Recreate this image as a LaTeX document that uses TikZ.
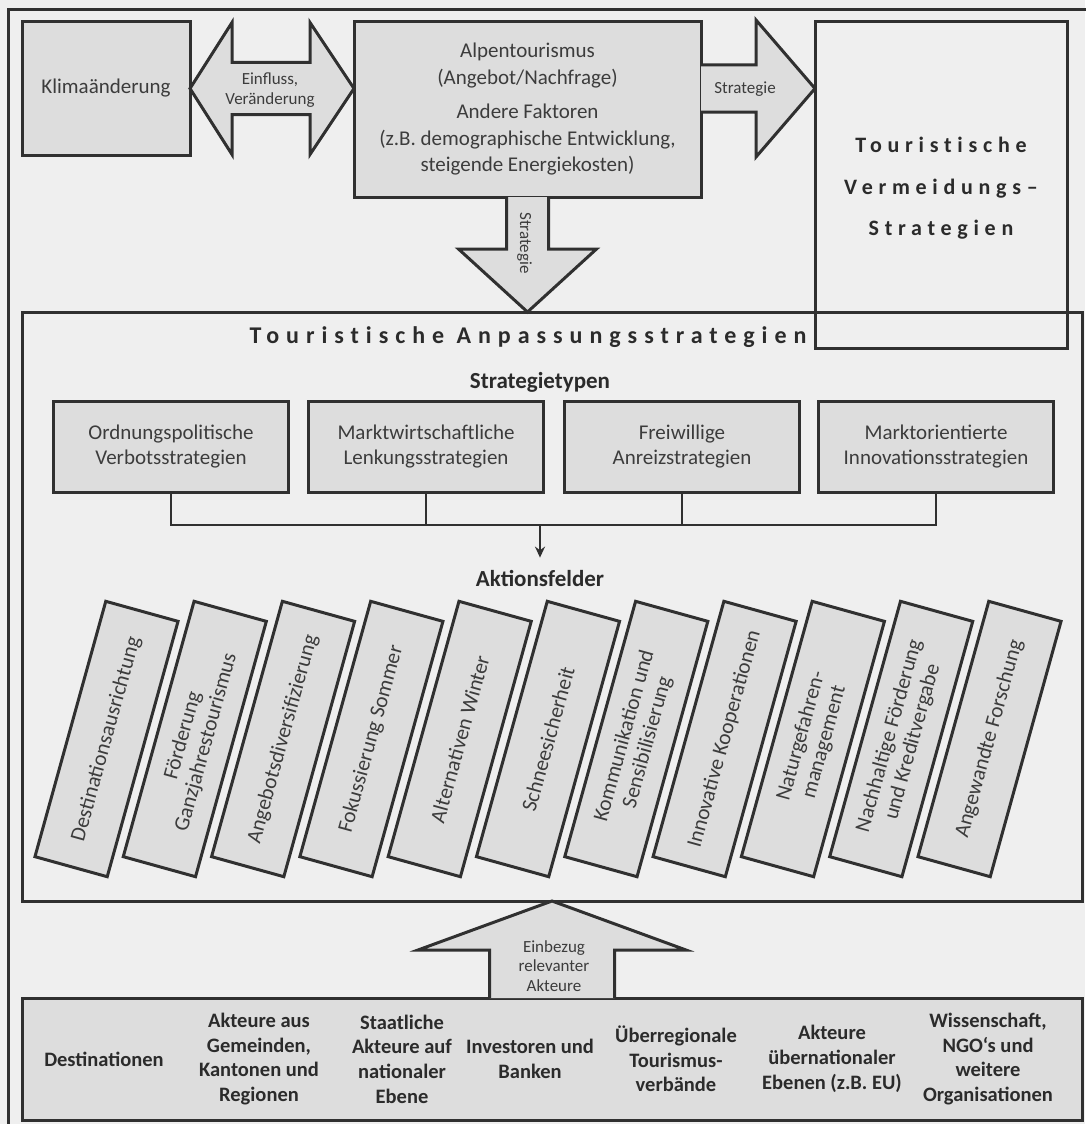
\documentclass[tikz,border=0pt]{standalone}
\usepackage{fontspec}
\setmainfont{Carlito}
\newfontfamily\spacedfont[LetterSpace=26,Ligatures=NoCommon]{Carlito}
\newfontfamily\widefont[LetterSpace=29,Ligatures=NoCommon]{Carlito}
\usetikzlibrary{calc,arrows.meta}

\definecolor{paper}{HTML}{EFEFEF}
\definecolor{boxfill}{HTML}{DDDDDD}
\definecolor{ink}{HTML}{303030}
\definecolor{txt}{HTML}{3C3C3C}
\definecolor{titletxt}{HTML}{2B2B2B}

\newcommand\fsz[2]{\fontsize{#1}{#2}\selectfont}

\begin{document}
\begin{tikzpicture}[x=1pt,y=-1pt,
  box/.style={draw=ink, line width=3pt, fill=boxfill, text=txt, align=center,
    inner sep=0pt, outer sep=0pt},
  plainbox/.style={box, fill=none},
  blockarrow/.style={draw=ink, line width=3pt, fill=boxfill, line join=miter},
  conn/.style={draw=ink, line width=2.5pt},
  lbl/.style={text=txt, align=center, inner sep=0pt},
  small/.style={lbl, font=\fsz{17}{19.5}},
  field/.style={box, minimum width=265pt, minimum height=75pt, rotate=74.5,
    font=\fsz{21.5}{24}},
  stratbox/.style={box, minimum width=235pt, minimum height=91pt, font=\fsz{21}{25}},
  actor/.style={lbl, text=titletxt, font=\bfseries\fsz{20.5}{24.7}},
  spaced/.style={lbl, text=titletxt, font=\spacedfont\bfseries}
]
% page and outer frame
\fill[paper] (0,0) rectangle (1085,1124);
\useasboundingbox (0,0) rectangle (1085,1124);
\draw[ink, line width=3pt] (8,10) rectangle (1110,1150);

% top row
\node[box, minimum width=168pt, minimum height=133pt, font=\fsz{21}{25}]
  (klima) at (106,88.5) {Klimaänderung};
\node[box, minimum width=347pt, minimum height=175pt, font=\fsz{21}{26.5}]
  (alpen) at (527.5,109.5)
  {Alpentourismus\\(Angebot/Nachfrage)\\[8pt]Andere Faktoren\\(z.B. demographische Entwicklung,\\steigende Energiekosten)};

% adaptation frame
\node[plainbox, minimum width=1060pt, minimum height=589pt] (anpass) at (552,606.5) {};
% avoidance box
\node[plainbox, minimum width=252pt, minimum height=326pt] (vermeid) at (941,185) {};
\node[spaced, font=\spacedfont\bfseries\fsz{22}{41.5}] (vtitle) at (941,188.5)
  {Touristische\\Vermeidungs–\\Strategien};

% double arrow: climate change <-> alpine tourism
\coordinate (dl) at (klima.east);
\coordinate (dr) at (klima.east -| alpen.west);
\draw[blockarrow] (dl) -- ($(dl)+(42,-66)$) -- ($(dl)+(42,-26)$) -- ($(dr)+(-44,-26)$)
  -- ($(dr)+(-44,-66)$) -- (dr) -- ($(dr)+(-44,66)$) -- ($(dr)+(-44,26)$)
  -- ($(dl)+(42,26)$) -- ($(dl)+(42,66)$) -- cycle;
\node[small] (einfluss) at (270,90) {Einfluss,\\Veränderung};

% arrow to avoidance strategies
\coordinate (rs) at (alpen.east |- klima.east);
\coordinate (rt) at (vermeid.west |- klima.east);
\draw[blockarrow] ($(rs)+(0,-23.5)$) -- ($(rt)+(-59,-23.5)$) -- ($(rt)+(-59,-68.5)$)
  -- (rt) -- ($(rt)+(-59,68.5)$) -- ($(rt)+(-59,23.5)$) -- ($(rs)+(0,23.5)$);
\node[small] (strat1) at (745,89) {Strategie};

% arrow down to adaptation strategies
\coordinate (ds) at (alpen.south);
\coordinate (dt) at (alpen.south |- anpass.north);
\draw[blockarrow] ($(ds)+(-21,0)$) -- ($(dt)+(-21,-63)$) -- ($(dt)+(-69,-63)$)
  -- (dt) -- ($(dt)+(69,-63)$) -- ($(dt)+(21,-63)$) -- ($(ds)+(21,0)$);
\node[small, rotate=-90] (strat2) at ($(ds)+(-3,46)$) {Strategie};

% adaptation strategies: headings
\node[lbl, text=titletxt, font=\widefont\bfseries\fsz{24}{28}] (atitle) at (528,337)
  {Touristische Anpassungsstrategien};
\node[lbl, text=titletxt, font=\bfseries\fsz{23}{26}] (typen) at (540,382) {Strategietypen};

% strategy types
\node[stratbox] (s1) at (171,446.5) {Ordnungspolitische\\Verbotsstrategien};
\node[stratbox] (s2) at (426,446.5) {Marktwirtschaftliche\\Lenkungsstrategien};
\node[stratbox] (s3) at (682,446.5) {Freiwillige\\Anreizstrategien};
\node[stratbox] (s4) at (936,446.5) {Marktorientierte\\Innovationsstrategien};

\node[lbl, text=titletxt, font=\bfseries\fsz{23}{26}, inner ysep=12pt] (akt) at (540,578) {Aktionsfelder};

\coordinate (bus) at (akt.north |- 0,525);
\draw[conn] (s1.south) -- (s1.south |- bus) -- (s4.south |- bus) -- (s4.south);
\draw[conn] (s2.south) -- (s2.south |- bus);
\draw[conn] (s3.south) -- (s3.south |- bus);
\draw[conn, -{Stealth[length=11pt,width=10pt]}] (bus) -- (akt.north);

% fields of action
\node[field] (f1)  at (106.5,739) {Destinationsausrichtung};
\node[field] (f2)  at (194.8,739) {Förderung\\Ganzjahrestourismus};
\node[field] (f3)  at (283.1,739) {Angebotsdiversifizierung};
\node[field] (f4)  at (371.4,739) {Fokussierung Sommer};
\node[field] (f5)  at (459.7,739) {Alternativen Winter};
\node[field] (f6)  at (548.0,739) {Schneesicherheit};
\node[field] (f7)  at (636.3,739) {Kommunikation und\\Sensibilisierung};
\node[field] (f8)  at (724.6,739) {Innovative Kooperationen};
\node[field] (f9)  at (812.9,739) {Naturgefahren-\\management};
\node[field] (f10) at (901.2,739) {Nachhaltige Förderung\\und Kreditvergabe};
\node[field] (f11) at (989.5,739) {Angewandte Forschung};

% actors
\node[box, minimum width=1060pt, minimum height=122pt] (actors) at (552,1059) {};
\node[actor] (a1) at (104,1059) {Destinationen};
\node[actor] (a2) at (259,1059) {Akteure aus\\Gemeinden,\\Kantonen und\\Regionen};
\node[actor] (a3) at (402,1059) {Staatliche\\Akteure auf\\nationaler\\Ebene};
\node[actor] (a4) at (530,1059) {Investoren und\\Banken};
\node[actor] (a5) at (676,1059) {Überregionale\\Tourismus-\\verbände};
\node[actor] (a6) at (832,1059) {Akteure\\übernationaler\\Ebenen (z.B. EU)};
\node[actor] (a7) at (988,1059) {Wissenschaft,\\NGO‘s und\\weitere\\Organisationen};

% arrow up from the actors
\coordinate (us) at (actors.north);
\coordinate (ut) at (actors.north |- anpass.south);
\draw[blockarrow] ($(us)+(-62.5,0)$) -- ($(ut)+(-62.5,49)$) -- ($(ut)+(-134,49)$)
  -- (ut) -- ($(ut)+(134,49)$) -- ($(ut)+(62.5,49)$) -- ($(us)+(62.5,0)$);
\node[small] (einbezug) at (554,966) {Einbezug\\relevanter\\Akteure};
\end{tikzpicture}
\end{document}
